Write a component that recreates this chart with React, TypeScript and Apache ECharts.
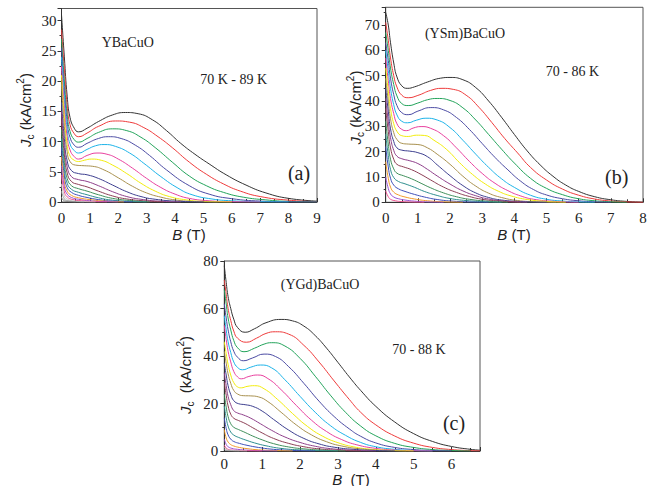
import React, { useEffect, useRef } from "react";
import * as echarts from "echarts";

// Origin-like default colour cycle (as printed, slightly muted)
const palette = [
  "#333333", "#ee3b3b", "#22a35a", "#4b4ba3", "#1db3e8", "#e8409e",
  "#f2ec0c", "#a8904e", "#3d3f8f", "#8e3f8a", "#8c3f55", "#3f8f5a",
  "#2f8f8f", "#3f4fb8", "#f29a2a", "#9a52d2", "#f0508f", "#c8c8c8",
  "#a0a0a0", "#888888",
];

// ---------- panel (a) YBaCuO, 70 K - 89 K ----------
const tempsA = [70, 71, 72, 73, 74, 75, 76, 77, 78, 79, 80, 81, 82, 83, 84, 85, 86, 87, 88, 89];
const curvesA: number[][][] = [
  [[0,31],[0.1,24],[0.2,17.5],[0.3,14],[0.45,12.2],[0.6,11.6],[0.9,12.2],[1.3,13.3],[1.8,14.4],[2.25,14.8],[2.7,14.6],[3.2,13.6],[3.7,11.8],[4.2,9.7],[4.7,7.9],[5.2,6.3],[5.8,4.5],[6.5,2.8],[7.2,1.5],[8,0.6],[9,0.15]],
  [[0,28.5],[0.1,22],[0.2,16],[0.3,12.8],[0.45,11.3],[0.6,10.8],[0.9,11.4],[1.3,12.5],[1.9,13.4],[2.4,13.2],[2.9,12.3],[3.4,10.8],[3.9,9.0],[4.5,6.6],[5.1,4.6],[5.7,3.0],[6.3,1.8],[7,0.9],[8,0.3],[9,0.05]],
  [[0,27],[0.1,20],[0.2,14.5],[0.3,11.7],[0.45,10.3],[0.6,9.9],[0.9,10.5],[1.3,11.5],[1.8,12.1],[2.3,11.8],[2.8,10.7],[3.3,9.0],[3.9,6.6],[4.5,4.3],[5.1,2.7],[5.7,1.6],[6.4,0.8],[7.2,0.35],[8,0.1],[9,0.02]],
  [[0,25.5],[0.1,18.5],[0.2,13.3],[0.3,10.7],[0.45,9.4],[0.6,9.05],[0.9,9.7],[1.3,10.5],[1.65,10.8],[2.1,10.5],[2.6,9.4],[3.1,7.7],[3.7,5.3],[4.5,2.7],[5.2,1.3],[6,0.55],[7,0.15],[8,0.03],[9,0]],
  [[0,24],[0.1,17],[0.2,12],[0.3,9.6],[0.45,8.5],[0.6,8.1],[0.9,8.7],[1.2,9.3],[1.5,9.5],[1.9,9.2],[2.4,8.1],[2.9,6.4],[3.5,4.2],[4.1,2.3],[4.6,1.2],[5.3,0.5],[6,0.2],[7,0.05],[8,0]],
  [[0,22.5],[0.1,15.5],[0.2,10.8],[0.3,8.6],[0.45,7.5],[0.6,7.1],[0.9,7.7],[1.25,8.1],[1.6,7.9],[2.0,7.1],[2.5,5.6],[3.0,3.9],[3.5,2.4],[4.0,1.3],[4.5,0.6],[5.2,0.2],[6,0.05],[7,0]],
  [[0,21],[0.1,14],[0.2,9.5],[0.3,7.6],[0.45,6.9],[0.6,6.7],[0.8,6.9],[1.05,7.1],[1.4,6.9],[1.8,6.1],[2.3,4.7],[2.8,3.1],[3.3,1.8],[3.8,0.9],[4.4,0.35],[5,0.1],[6,0]],
  [[0,19.5],[0.1,12.5],[0.2,8.3],[0.3,6.7],[0.5,6.1],[0.8,6.0],[1.1,5.9],[1.5,5.3],[2.0,4.0],[2.5,2.6],[3.0,1.5],[3.5,0.8],[4.0,0.35],[4.6,0.1],[5.5,0]],
  [[0,16.5],[0.1,10.5],[0.2,6.8],[0.35,5.2],[0.6,4.7],[0.9,4.5],[1.3,3.9],[1.8,2.8],[2.3,1.7],[2.8,0.9],[3.3,0.45],[4,0.15],[5,0]],
  [[0,15],[0.1,9],[0.2,5.8],[0.35,4.2],[0.6,3.7],[0.9,3.4],[1.3,2.7],[1.8,1.7],[2.3,0.9],[2.8,0.45],[3.4,0.15],[4.2,0]],
  [[0,13.5],[0.1,7.8],[0.2,4.8],[0.35,3.4],[0.6,2.9],[0.9,2.5],[1.3,1.8],[1.8,1.0],[2.3,0.5],[2.9,0.2],[3.6,0]],
  [[0,12],[0.1,6.5],[0.2,3.9],[0.35,2.7],[0.6,2.2],[0.9,1.8],[1.3,1.2],[1.8,0.6],[2.4,0.25],[3.1,0]],
  [[0,10.5],[0.1,5.4],[0.2,3.1],[0.35,2.1],[0.6,1.6],[0.9,1.2],[1.3,0.7],[1.8,0.3],[2.5,0.08],[3,0]],
  [[0,9],[0.1,4.3],[0.2,2.4],[0.35,1.6],[0.6,1.1],[0.9,0.75],[1.3,0.4],[1.8,0.15],[2.5,0]],
  [[0,7.5],[0.1,3.3],[0.2,1.8],[0.35,1.1],[0.6,0.7],[1,0.4],[1.5,0.15],[2.2,0]],
  [[0,6],[0.1,2.5],[0.2,1.3],[0.35,0.75],[0.6,0.45],[1,0.2],[1.6,0.05],[2,0]],
  [[0,4.5],[0.1,1.7],[0.2,0.85],[0.4,0.4],[0.7,0.2],[1.2,0.05],[1.6,0]],
  [[0,3],[0.1,1.0],[0.2,0.5],[0.4,0.2],[0.8,0.05],[1.2,0]],
  [[0,1.8],[0.1,0.5],[0.2,0.25],[0.5,0.05],[0.8,0]],
  [[0,0.8],[0.1,0.2],[0.3,0.05],[0.5,0]],
];

// ---------- panel (b) (YSm)BaCuO, 70 - 86 K ----------
const tempsB = [70, 71, 72, 73, 74, 75, 76, 77, 78, 79, 80, 81, 82, 83, 84, 85, 86];
const curvesB: number[][][] = [
  [[0,75],[0.08,70],[0.15,63],[0.25,55],[0.35,49.5],[0.5,46],[0.67,45],[0.9,45.6],[1.3,47.5],[1.7,49],[2.0,49.3],[2.4,48.4],[2.8,45.3],[3.2,40],[3.6,33.6],[4.0,26.8],[4.4,20.3],[4.8,14.8],[5.2,10.3],[5.6,6.8],[6.0,4.3],[6.5,2.2],[7,1.0],[7.5,0.35],[8,0.08]],
  [[0,71],[0.08,64],[0.15,57],[0.25,50],[0.35,45.5],[0.5,42.3],[0.7,41.3],[1.0,42.2],[1.4,44.2],[1.75,45],[2.1,44.6],[2.5,42.3],[2.9,37.5],[3.3,31.5],[3.7,25.2],[4.1,19.5],[4.5,13.8],[5,8.8],[5.5,5.2],[6,2.8],[6.5,1.3],[7,0.5],[7.5,0.15],[8,0]],
  [[0,67],[0.08,60],[0.15,53],[0.25,46.5],[0.35,42],[0.5,39],[0.7,38.2],[1.0,39.2],[1.3,40.5],[1.6,41],[2.0,40.2],[2.4,37.3],[2.8,32.5],[3.2,26.8],[3.6,21],[4.0,15.5],[4.5,9.5],[5,5.5],[5.5,3],[6,1.4],[6.5,0.6],[7,0.2],[7.5,0]],
  [[0,63],[0.08,56],[0.15,49],[0.25,42.5],[0.35,38.2],[0.5,35.4],[0.7,34.6],[1.0,36],[1.4,37.4],[1.8,36.5],[2.2,33.5],[2.6,28.8],[3.0,23.2],[3.4,17.7],[3.8,12.8],[4.2,8.3],[4.6,5],[5,2.9],[5.5,1.4],[6,0.6],[6.5,0.2],[7,0]],
  [[0,60],[0.08,52],[0.15,45],[0.25,38.5],[0.35,34.5],[0.5,32],[0.68,31.4],[0.95,32.4],[1.25,33.2],[1.6,32.5],[2.0,29.5],[2.4,24.5],[2.8,19],[3.2,13.8],[3.6,9.3],[4.0,5.9],[4.5,2.8],[5,1.2],[5.5,0.5],[6,0.15],[6.5,0]],
  [[0,57],[0.08,48],[0.15,41],[0.25,35],[0.35,31],[0.5,28.8],[0.65,28.3],[0.85,29.3],[1.1,29.9],[1.4,29.2],[1.8,26.3],[2.2,21.5],[2.6,16.2],[3.0,11.4],[3.4,7.5],[3.8,4.6],[4.2,2.5],[4.6,1.2],[5.2,0.4],[6,0]],
  [[0,53],[0.08,44],[0.15,37],[0.25,31],[0.35,28],[0.5,26.3],[0.7,26],[0.95,26.5],[1.2,26.4],[1.5,24.5],[1.9,20.8],[2.3,15.6],[2.7,11],[3.1,7.2],[3.5,4.4],[3.9,2.5],[4.4,1.1],[5,0.35],[5.6,0]],
  [[0,49],[0.08,40],[0.15,33],[0.25,27.5],[0.35,24.8],[0.5,23.3],[0.7,23],[1.0,22.8],[1.3,21.5],[1.6,19],[2.0,15],[2.4,10.3],[2.8,6.4],[3.2,3.6],[3.6,1.9],[4.1,0.7],[4.7,0.2],[5.3,0]],
  [[0,45],[0.08,36],[0.15,29],[0.25,24],[0.35,21.5],[0.5,20.6],[0.75,20.2],[1.0,19.6],[1.3,18],[1.6,14.8],[2.0,10.5],[2.4,6.6],[2.8,3.7],[3.2,1.9],[3.6,0.9],[4.2,0.3],[5,0]],
  [[0,41],[0.08,32],[0.15,25.5],[0.25,20.5],[0.35,18.2],[0.5,17.2],[0.75,16.4],[1.0,15.3],[1.3,13],[1.6,10.4],[2.0,7.2],[2.4,4.5],[2.8,2.6],[3.2,1.3],[3.7,0.5],[4.4,0]],
  [[0,37],[0.08,28],[0.15,21.5],[0.25,17],[0.35,15],[0.55,14],[0.8,12.9],[1.1,11],[1.4,8.8],[1.8,6],[2.2,3.9],[2.6,2.3],[3.0,1.2],[3.5,0.5],[4.2,0]],
  [[0,32],[0.08,23],[0.15,17],[0.25,13.2],[0.35,11.5],[0.55,10.5],[0.8,9.3],[1.1,7.5],[1.4,5.7],[1.8,3.7],[2.2,2.2],[2.6,1.2],[3.1,0.5],[3.8,0]],
  [[0,27],[0.08,18.5],[0.15,13],[0.25,9.8],[0.4,8.2],[0.6,7.3],[0.9,5.9],[1.2,4.3],[1.6,2.7],[2.0,1.5],[2.5,0.7],[3.1,0.2],[3.6,0]],
  [[0,22],[0.08,14],[0.15,9.5],[0.25,6.8],[0.4,5.3],[0.6,4.3],[0.9,3.1],[1.2,2.1],[1.6,1.1],[2.1,0.45],[2.7,0.1],[3.2,0]],
  [[0,16],[0.08,9.5],[0.15,6],[0.25,4],[0.4,2.9],[0.6,2.1],[0.9,1.3],[1.3,0.6],[1.8,0.2],[2.4,0]],
  [[0,10],[0.08,5.5],[0.15,3.3],[0.25,2.1],[0.4,1.4],[0.6,0.9],[0.9,0.45],[1.3,0.15],[1.8,0]],
  [[0,4.5],[0.08,2.2],[0.15,1.2],[0.3,0.6],[0.5,0.3],[0.8,0.1],[1.2,0]],
];

// ---------- panel (c) (YGd)BaCuO, 70 - 88 K ----------
const tempsC = [70, 71, 72, 73, 74, 75, 76, 77, 78, 79, 80, 81, 82, 83, 84, 85, 86, 87, 88];
const curvesC: number[][][] = [
  [[0,78],[0.05,71],[0.1,65],[0.17,60],[0.25,55.5],[0.35,52],[0.55,50],[0.8,51.5],[1.1,54],[1.5,55.4],[1.8,54.8],[2.1,52.6],[2.4,48.6],[2.7,43.3],[3.0,37.3],[3.3,31.2],[3.6,25.5],[4.0,18.8],[4.5,12.2],[5,7.3],[5.5,4],[6,1.9],[6.5,0.7],[6.75,0.35]],
  [[0,72],[0.05,66],[0.1,60],[0.17,55],[0.25,50.5],[0.35,47.5],[0.58,45.8],[0.85,47.5],[1.1,49.5],[1.35,50.2],[1.7,49.2],[2.1,44.5],[2.5,37.5],[2.9,29.5],[3.3,21.7],[3.6,16.3],[4,11],[4.5,6.3],[5,3.3],[5.5,1.5],[6,0.6],[6.5,0.15],[6.75,0.05]],
  [[0,68],[0.05,62],[0.1,56],[0.17,51],[0.25,46.5],[0.35,43.5],[0.52,41.8],[0.8,43.3],[1.05,45],[1.25,45.6],[1.6,44.2],[2.0,39],[2.4,31.5],[2.8,23.5],[3.2,16.3],[3.6,10.5],[4,6.4],[4.5,3.2],[5,1.5],[5.5,0.6],[6,0.2],[6.5,0]],
  [[0,62],[0.05,56],[0.1,51],[0.17,46],[0.25,42],[0.35,39.5],[0.5,38],[0.75,39.2],[1.05,40.8],[1.35,39.8],[1.7,35.5],[2.1,28.5],[2.5,21],[2.9,14.5],[3.3,9.3],[3.6,6.2],[4,3.4],[4.5,1.5],[5,0.6],[5.5,0.2],[6,0]],
  [[0,57],[0.05,51],[0.1,46],[0.17,41.5],[0.25,37.5],[0.35,35.2],[0.48,34.2],[0.7,35.3],[0.95,36.2],[1.25,35],[1.6,30],[2.0,23],[2.4,16.3],[2.8,10.7],[3.2,6.6],[3.6,3.6],[4,1.8],[4.5,0.7],[5,0.2],[5.5,0]],
  [[0,53],[0.05,47],[0.1,42],[0.17,37.5],[0.25,33.5],[0.35,31.2],[0.45,30.4],[0.65,31.4],[0.88,32],[1.15,30.5],[1.5,25.8],[1.9,19.2],[2.3,13],[2.7,8.2],[3.1,4.8],[3.5,2.6],[4,1.1],[4.5,0.4],[5,0.1],[5.5,0]],
  [[0,46],[0.05,41],[0.1,36.5],[0.17,32],[0.25,28.8],[0.35,27],[0.45,26.6],[0.6,27.2],[0.8,27.5],[1.05,26.2],[1.4,21.8],[1.8,15.8],[2.2,10.3],[2.6,6.2],[3.0,3.5],[3.4,1.8],[3.9,0.7],[4.5,0.2],[5,0]],
  [[0,42],[0.05,37],[0.1,32.5],[0.17,28.5],[0.25,25.5],[0.35,24],[0.5,23.3],[0.7,23.2],[0.9,22.8],[1.15,20.8],[1.5,16.3],[1.9,11],[2.3,6.8],[2.7,3.9],[3.1,2.1],[3.6,0.9],[4.2,0.25],[4.8,0]],
  [[0,37],[0.05,32],[0.1,27.5],[0.17,23.8],[0.25,21.2],[0.38,19.9],[0.55,19.5],[0.75,18.8],[1.0,16.8],[1.3,13.3],[1.7,8.8],[2.1,5.3],[2.5,3],[2.9,1.6],[3.4,0.7],[4,0.2],[4.5,0]],
  [[0,33],[0.05,27.5],[0.1,23],[0.17,19.5],[0.25,17],[0.35,16],[0.5,15.2],[0.7,13.8],[0.95,11.5],[1.25,8.7],[1.6,5.9],[2.0,3.6],[2.4,2],[2.8,1],[3.3,0.4],[4,0]],
  [[0,29],[0.05,23.5],[0.1,19],[0.17,15.5],[0.25,13.8],[0.38,12.8],[0.55,11.6],[0.75,9.8],[1.0,7.6],[1.3,5.3],[1.7,3.2],[2.1,1.8],[2.5,0.9],[3,0.35],[3.6,0]],
  [[0,24],[0.05,18.5],[0.1,14.5],[0.17,11.5],[0.25,10],[0.38,9],[0.55,7.8],[0.75,6.3],[1.0,4.7],[1.3,3.1],[1.7,1.7],[2.1,0.9],[2.6,0.35],[3.2,0]],
  [[0,19],[0.05,14],[0.1,10.5],[0.17,8],[0.25,6.7],[0.38,5.7],[0.55,4.7],[0.8,3.4],[1.1,2.2],[1.5,1.1],[2.0,0.45],[2.6,0.1],[3,0]],
  [[0,14],[0.05,9.5],[0.1,6.8],[0.17,5],[0.25,4],[0.4,3.2],[0.6,2.4],[0.9,1.5],[1.3,0.7],[1.8,0.25],[2.4,0]],
  [[0,9],[0.05,5.5],[0.1,3.8],[0.17,2.7],[0.25,2.1],[0.4,1.5],[0.6,1.0],[0.9,0.5],[1.3,0.2],[1.8,0]],
  [[0,5],[0.05,2.8],[0.1,1.8],[0.2,1.1],[0.35,0.7],[0.6,0.35],[1,0.1],[1.4,0]],
  [[0,2.5],[0.05,1.2],[0.1,0.7],[0.2,0.4],[0.4,0.2],[0.7,0.05],[1,0]],
  [[0,1.6],[0.05,0.7],[0.15,0.3],[0.4,0.08],[0.6,0]],
  [[0,0.8],[0.05,0.3],[0.15,0.1],[0.4,0]],
];

const serif = '"Liberation Serif", "Times New Roman", serif';
const sans = '"Liberation Sans", Arial, sans-serif';
const axisColor = "#333";

function buildSeries(curves: number[][][], temps: number[], idx: number) {
  return curves.map((c, i) => ({
    type: "line",
    name: `${temps[i]} K`,
    xAxisIndex: idx,
    yAxisIndex: idx,
    data: c,
    showSymbol: false,
    smooth: 0.5,
    clip: true,
    silent: true,
    lineStyle: { width: 1, color: palette[i] },
    itemStyle: { color: palette[i] },
  }));
}

function xAxisOf(idx: number, max: number, margin: number, showMax: boolean) {
  return {
    type: "value",
    gridIndex: idx,
    min: 0,
    max,
    interval: 1,
    axisLine: { show: true, onZero: false, lineStyle: { color: axisColor, width: 1 } },
    axisTick: { show: true, inside: true, length: 4, lineStyle: { color: axisColor } },
    minorTick: { show: true, splitNumber: 2, length: 3, lineStyle: { color: axisColor } },
    axisLabel: { fontFamily: serif, fontSize: 15, color: "#222", margin, showMaxLabel: showMax },
    splitLine: { show: false },
  };
}

function yAxisOf(idx: number, max: number, interval: number, margin: number, showMax: boolean) {
  return {
    type: "value",
    gridIndex: idx,
    min: 0,
    max,
    interval,
    axisLine: { show: true, onZero: false, lineStyle: { color: axisColor, width: 1 } },
    axisTick: { show: true, inside: false, length: 4, lineStyle: { color: axisColor } },
    minorTick: { show: true, splitNumber: 2, length: 2, lineStyle: { color: axisColor } },
    axisLabel: { fontFamily: serif, fontSize: 15, color: "#222", margin, showMaxLabel: showMax },
    splitLine: { show: false },
  };
}

function label(x: number, y: number, text: string, size: number) {
  return {
    type: "text",
    x,
    y,
    silent: true,
    style: {
      text,
      font: `${size}px ${serif}`,
      fill: "#222",
      align: "center",
      verticalAlign: "middle",
      textAlign: "center",
      textVerticalAlign: "middle",
    },
  };
}

function richTitle(lh: number) {
  return {
    i: { fontStyle: "italic", fontFamily: sans, fontSize: 15, lineHeight: lh, verticalAlign: "middle", fill: "#222" },
    n: { fontFamily: sans, fontSize: 15, lineHeight: lh, verticalAlign: "middle", fill: "#222" },
    sub: { fontFamily: sans, fontSize: 10, lineHeight: 10, verticalAlign: "bottom", fill: "#222" },
    sup: { fontFamily: sans, fontSize: 10, lineHeight: 10, verticalAlign: "top", fill: "#222" },
  };
}

function yTitle(x: number, y: number, gap: string) {
  return {
    type: "text",
    x,
    y,
    rotation: Math.PI / 2,
    silent: true,
    style: {
      text: `{i|J}{sub|c}{n|${gap}(kA/cm}{sup|2}{n|)}`,
      rich: richTitle(20),
      font: `15px ${sans}`,
      fill: "#222",
      align: "center",
      verticalAlign: "middle",
      textAlign: "center",
      textVerticalAlign: "middle",
    },
  };
}

function xTitle(x: number, y: number, gap: string) {
  return {
    type: "text",
    x,
    y,
    silent: true,
    style: {
      text: `{i|B}{n|${gap}(T)}`,
      rich: richTitle(15),
      font: `15px ${sans}`,
      fill: "#222",
      align: "center",
      verticalAlign: "middle",
      textAlign: "center",
      textVerticalAlign: "middle",
    },
  };
}

export default function App() {
  const ref = useRef<HTMLDivElement>(null);

  useEffect(() => {
    if (!ref.current) return;
    const chart = echarts.init(ref.current, null, { renderer: "svg" });
    const gridStyle = { show: true, borderColor: "#555", borderWidth: 1, backgroundColor: "transparent", containLabel: false };
    chart.setOption({
      animation: false,
      backgroundColor: "#ffffff",
      grid: [
        { ...gridStyle, left: 61.5, top: 8.5, width: 255.5, height: 193.5 },
        { ...gridStyle, left: 385.7, top: 7.3, width: 257.3, height: 195 },
        { ...gridStyle, left: 224.3, top: 261, width: 255.7, height: 190 },
      ],
      xAxis: [xAxisOf(0, 9, 8, true), xAxisOf(1, 8, 8, true), xAxisOf(2, 6.75, 5, false)],
      yAxis: [yAxisOf(0, 32, 5, 5, false), yAxisOf(1, 77, 10, 6, false), yAxisOf(2, 80, 20, 6, true)],
      series: [
        ...buildSeries(curvesA, tempsA, 0),
        ...buildSeries(curvesB, tempsB, 1),
        ...buildSeries(curvesC, tempsC, 2),
      ],
      graphic: [
        label(127.7, 42.7, "YBaCuO", 14),
        label(233.7, 79.3, "70 K - 89 K", 14),
        label(299, 173.3, "(a)", 20),
        label(465, 33.3, "(YSm)BaCuO", 14),
        label(572.5, 71, "70 - 86 K", 14),
        label(616.7, 176.7, "(b)", 20),
        label(320, 284.3, "(YGd)BaCuO", 14),
        label(419, 349, "70 - 88 K", 14),
        label(454, 423, "(c)", 20),
        yTitle(25, 110, " "),
        yTitle(355, 107.5, " "),
        yTitle(185, 375, "  "),
        xTitle(189, 234, " "),
        xTitle(514, 234, " "),
        xTitle(351, 479, "  "),
      ],
    });
    return () => chart.dispose();
  }, []);

  return (
    <div
      ref={ref}
      style={{ position: "fixed", left: 0, top: 0, width: 656, height: 486, background: "#fff" }}
    />
  );
}
